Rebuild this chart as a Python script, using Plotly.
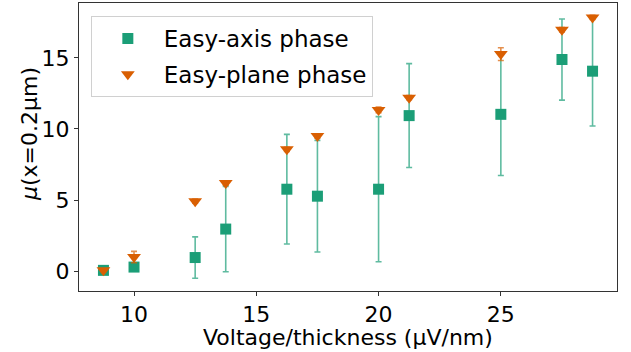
import plotly.graph_objects as go

x_vals = [8.75, 10, 12.5, 13.75, 16.25, 17.5, 20, 21.25, 25, 27.5, 28.75]
axis_mu = [0.07, 0.3, 0.97, 2.97, 5.77, 5.28, 5.77, 10.94, 11.03, 14.88, 14.06]
axis_err = [0.1, 0.15, 1.45, 3.0, 3.85, 3.92, 5.1, 3.65, 4.3, 2.85, 3.85]
plane_mu = [0.07, 1.0, 4.93, 6.2, 8.57, 9.5, 11.34, 12.2, 15.26, 16.97, 17.84]
plane_err = [0.1, 0.4, 0.15, 0.15, 0.15, 0.15, 0.2, 0.15, 0.45, 0.15, 0.15]

x_ticks = [10, 15, 20, 25]
y_ticks = [0, 5, 10, 15]

GREEN = "#1b9e77"
ORANGE = "#d95f02"
FONT = "DejaVu Sans"
FS = 22

W, H = 631, 352
ML, MR, MT, MB = 79, 14, 3, 61
PW, PH = W - ML - MR, H - MT - MB

fig = go.Figure()
fig.add_trace(go.Scatter(
    x=x_vals, y=axis_mu, mode="markers", name="Easy-axis phase",
    legendgroup="a",
    marker=dict(symbol="square", size=11, color=GREEN),
    error_y=dict(type="data", array=axis_err, visible=True,
                 color="rgba(27,158,119,0.7)", thickness=1.6, width=3),
))
fig.add_trace(go.Scatter(
    x=x_vals, y=plane_mu, mode="markers", name="Easy-plane phase",
    legendgroup="b",
    marker=dict(symbol="triangle-down", size=12, color=ORANGE),
    error_y=dict(type="data", array=plane_err, visible=True,
                 color="rgba(217,95,2,0.7)", thickness=1.6, width=3),
))

axis_common = dict(
    showline=True, linecolor="#333", linewidth=1, mirror=True,
    ticks="outside", ticklen=4, tickcolor="#333", tickwidth=1,
    showgrid=False, zeroline=False,
    tickfont=dict(family=FONT, size=FS, color="black"),
)
fig.update_xaxes(range=[7.75, 29.75], tickvals=x_ticks, **axis_common)
fig.update_yaxes(range=[-1.38, 18.85], tickvals=y_ticks, **axis_common)

fig.add_annotation(text="Voltage/thickness (μV/nm)", xref="paper", yref="paper",
                   x=0.5, y=-(337 - (MT + PH)) / PH, xanchor="center", yanchor="middle",
                   showarrow=False, font=dict(family=FONT, size=22, color="black"))
fig.add_annotation(text="<i>μ</i>(x=0.2μm)", xref="paper", yref="paper",
                   x=(29 - ML) / PW, y=(MT + PH - 134) / PH, xanchor="center", yanchor="middle",
                   textangle=-90, showarrow=False,
                   font=dict(family=FONT, size=22, color="black"))

fig.update_layout(
    width=W, height=H,
    margin=dict(l=ML, r=MR, t=MT, b=MB),
    paper_bgcolor="white", plot_bgcolor="white",
    font=dict(family=FONT, size=FS, color="black"),
    showlegend=True,
    legend=dict(x=0.022, y=0.955, xanchor="left", yanchor="top",
                bgcolor="rgba(255,255,255,0.8)", bordercolor="#d0d0d0",
                borderwidth=1, itemwidth=62,
                font=dict(family=FONT, size=23, color="black"),
                tracegroupgap=3),
)

fig.write_html("out.html")
